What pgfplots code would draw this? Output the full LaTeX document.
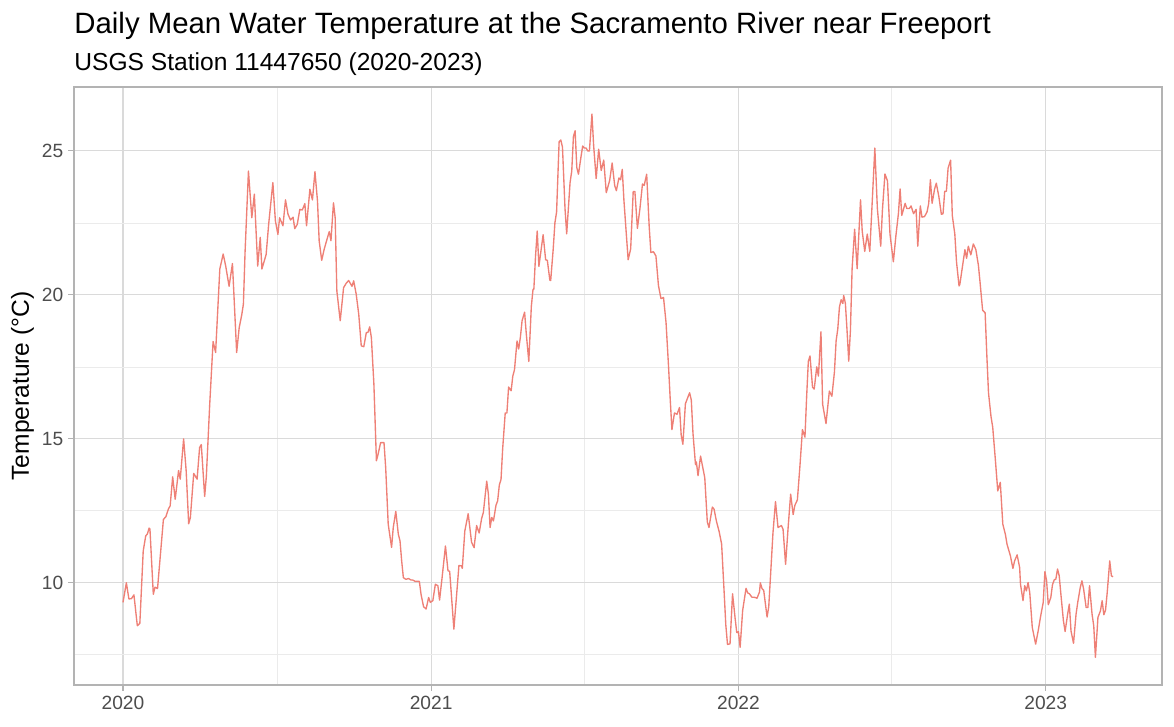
\documentclass[border=0pt]{standalone}
\usepackage{fontspec}
\setmainfont{Liberation Sans}
\usepackage{pgfplots}
\usepackage{pgfplotstable}
\pgfplotsset{compat=1.18}
\definecolor{linec}{RGB}{238,128,118}
\definecolor{gridmaj}{RGB}{218,218,218}
\definecolor{gridmin}{RGB}{235,235,235}
\definecolor{bordc}{RGB}{179,179,179}
\definecolor{tickc}{RGB}{77,77,77}
\pgfplotstableread{
day temp
0 9.32
4 10.0
7 9.44
10 9.45
13 9.58
17 8.51
20 8.59
24 11.1
27 11.63
29 11.7
31 11.9
32 11.87
36 9.6
38 9.85
41 9.8
48 12.2
51 12.3
54 12.57
56 12.67
59 13.68
62 12.9
66 13.9
68 13.6
72 15.0
75 13.9
78 12.05
80 12.26
84 13.8
86 13.7
88 13.6
91 14.7
93 14.8
97 13.0
99 13.7
103 16.2
107 18.38
110 18.0
115 20.9
119 21.42
122 21.0
126 20.3
130 21.09
135 18.0
138 18.86
141 19.3
143 19.68
145 21.5
149 24.3
153 22.68
156 23.5
160 21.0
163 22.0
165 20.9
170 21.4
173 22.45
178 23.9
181 22.57
184 22.1
186 22.68
190 22.4
193 23.3
196 22.8
199 22.6
202 22.7
204 22.3
207 22.45
210 22.97
213 22.95
216 23.17
218 22.4
222 23.67
225 23.3
228 24.28
231 23.26
233 21.88
236 21.2
239 21.59
242 21.9
245 22.2
247 21.88
250 23.2
252 22.68
254 20.14
258 19.1
262 20.25
265 20.4
268 20.5
270 20.4
272 20.3
274 20.49
277 20.02
280 19.33
283 18.23
286 18.2
289 18.69
291 18.7
293 18.89
295 18.52
298 16.9
301 14.24
303 14.47
306 14.87
310 14.87
312 14.0
315 12.04
319 11.23
321 11.92
324 12.48
327 11.69
329 11.46
331 10.76
333 10.18
336 10.12
339 10.15
342 10.1
344 10.1
347 10.05
349 10.05
352 10.05
354 9.6
357 9.17
360 9.09
363 9.49
365 9.32
368 9.38
371 9.95
374 9.9
376 9.4
379 10.18
383 11.28
386 10.42
388 10.4
390 9.6
393 8.39
396 9.49
399 10.6
402 10.59
403 10.5
406 11.8
410 12.4
414 11.41
417 11.22
420 11.99
423 11.73
426 12.24
428 12.44
432 13.53
434 13.08
436 11.92
438 12.27
440 12.15
443 12.69
445 12.85
447 13.4
449 13.59
451 14.68
454 15.9
456 15.9
458 16.8
461 16.67
463 17.18
465 17.4
468 18.4
470 18.12
472 18.53
474 19.1
477 19.4
479 18.65
482 17.69
485 19.6
487 20.19
488 20.2
490 21.35
492 22.22
494 20.99
499 22.09
502 21.22
504 21.2
507 20.51
508 20.5
511 21.6
513 22.5
515 22.88
518 25.32
520 25.38
522 25.13
525 23.0
527 22.12
531 23.9
533 24.3
535 25.5
537 25.7
539 24.42
541 24.19
544 24.8
546 25.17
548 25.1
550 25.1
552 25.0
554 25.0
557 26.28
559 25.19
562 24.04
565 25.06
568 24.32
571 24.68
574 23.55
578 23.97
581 24.58
584 23.8
586 23.62
589 24.06
591 24.0
593 24.36
595 23.27
600 21.22
603 21.6
606 23.59
608 23.59
611 22.31
614 23.0
617 23.85
619 23.8
622 24.19
625 22.37
627 21.47
630 21.5
633 21.35
636 20.32
639 19.87
642 19.91
645 19.04
648 17.5
650 16.35
652 15.32
655 15.9
658 15.85
661 16.09
663 15.13
665 14.81
668 16.22
671 16.45
673 16.6
675 16.35
677 15.19
680 14.1
681 14.2
683 13.72
686 14.4
691 13.65
694 12.12
696 11.92
700 12.63
702 12.56
705 12.12
708 11.79
711 11.35
714 9.68
716 8.53
718 7.86
721 7.88
724 9.62
727 8.78
729 8.27
731 8.3
733 7.76
736 9.04
740 9.81
742 9.65
744 9.62
747 9.5
749 9.5
751 9.49
753 9.46
756 9.68
757 10.0
759 9.8
761 9.74
765 8.81
767 9.17
770 10.7
772 11.73
775 12.82
778 11.92
782 11.99
784 11.86
787 10.64
790 11.92
793 13.08
796 12.37
798 12.69
801 12.88
804 14.04
807 15.32
810 15.06
812 16.47
814 17.69
816 17.88
819 16.79
821 16.73
824 17.5
826 17.18
829 18.72
831 16.2
835 15.53
839 16.66
842 16.48
845 17.32
847 18.4
849 18.82
851 19.59
853 19.83
855 19.7
856 19.98
858 19.71
860 18.76
862 17.7
864 18.76
866 20.91
869 22.28
872 20.91
876 23.3
878 22.22
881 21.51
884 22.11
887 21.51
890 23.3
893 25.1
896 23.0
900 21.69
902 22.94
905 24.2
908 23.96
911 22.11
915 21.15
918 22.05
921 22.82
923 23.68
925 22.76
929 23.18
931 23.0
934 23.0
936 23.09
939 22.82
942 22.97
944 21.69
947 23.09
949 22.7
952 22.72
955 22.88
957 23.18
959 24.0
961 23.18
964 23.68
966 23.88
969 23.42
972 22.8
974 22.82
976 23.6
978 23.6
980 24.4
983 24.68
985 22.76
988 22.11
990 21.15
993 20.31
994 20.37
997 20.97
1000 21.57
1002 21.27
1004 21.69
1007 21.39
1010 21.77
1013 21.57
1016 21.03
1018 20.43
1021 19.47
1024 19.38
1026 17.92
1028 16.6
1031 15.77
1033 15.41
1036 14.33
1039 13.19
1042 13.49
1045 12.04
1048 11.69
1050 11.34
1054 10.94
1057 10.5
1059 10.76
1062 10.97
1065 10.53
1066 9.95
1069 9.38
1071 9.9
1073 9.72
1075 10.01
1077 9.66
1080 8.45
1084 7.87
1087 8.33
1090 8.85
1093 9.32
1095 10.39
1097 10.07
1099 9.24
1102 9.49
1104 9.93
1106 10.1
1108 10.13
1110 10.48
1112 10.24
1114 9.6
1117 8.68
1119 8.31
1122 8.91
1124 9.26
1126 8.33
1129 7.9
1132 8.91
1134 9.32
1137 9.84
1139 10.07
1141 9.78
1144 9.14
1146 9.14
1148 9.9
1151 8.91
1153 8.51
1155 7.41
1158 8.8
1161 9.03
1163 9.38
1165 8.89
1167 9.05
1169 9.66
1172 10.76
1174 10.24
1176 10.21
}\tempdata
\begin{document}
\begin{tikzpicture}
\useasboundingbox (0,0) rectangle (563.52pt,-348.48pt);
\begin{axis}[
  at={(35.52pt,-328.8pt)}, anchor=south west,
  scale only axis, width=522.24pt, height=287.04pt,
  xmin=-58.2, xmax=1234.1, ymin=6.45, ymax=27.22,
  xtick={0,366,731,1096}, xticklabels={2020,2021,2022,2023},
  ytick={10,15,20,25},
  minor xtick={183,548,913}, minor ytick={7.5,12.5,17.5,22.5},
  grid=both,
  major grid style={draw=gridmaj, line width=0.5pt},
  minor grid style={draw=gridmin, line width=0.35pt},
  axis line style={draw=bordc, line width=0.6pt},
  tick align=outside, major tick length=2.75pt, minor tick length=0pt,
  tick style={draw=bordc, line width=0.5pt},
  xtick pos=bottom, ytick pos=left,
  ticklabel style={font=\fontsize{9.2}{10}\selectfont, text=tickc},
  /pgf/number format/assume math mode=true,
  yticklabel style={inner sep=0pt, xshift=-2.2pt},
  xticklabel style={inner sep=0pt, yshift=-2.2pt},
]
\addplot[color=linec, line width=0.65pt, line join=round] table[x=day, y=temp] {\tempdata};
\end{axis}
\node[anchor=base west, inner sep=0pt, font=\fontsize{14.1}{16}\selectfont] at (35.52pt,-15.84pt) {Daily Mean Water Temperature at the Sacramento River near Freeport};
\node[anchor=base west, inner sep=0pt, font=\fontsize{11.8}{14}\selectfont] at (35.52pt,-33.6pt) {USGS Station 11447650 (2020-2023)};
\node[rotate=90, inner sep=0pt, font=\fontsize{11.8}{14}\selectfont] at (10.8pt,-185.3pt) {Temperature (°C)};
\end{tikzpicture}
\end{document}
